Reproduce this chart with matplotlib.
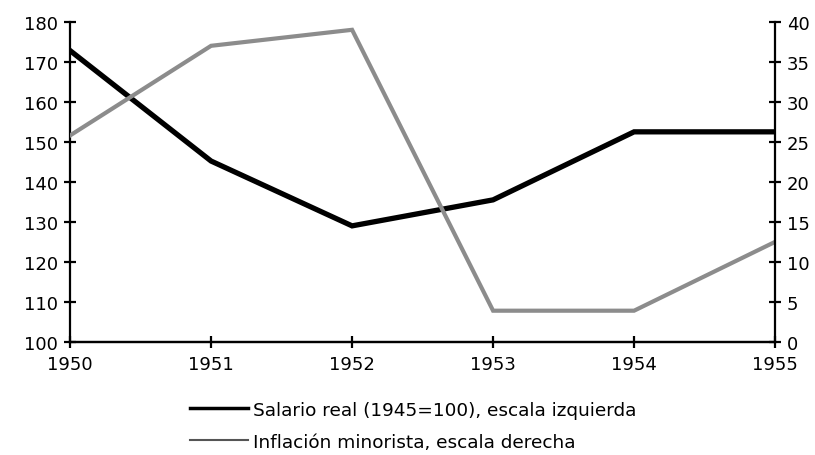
import matplotlib.pyplot as plt
from matplotlib.lines import Line2D

# data
years = [1950, 1951, 1952, 1953, 1954, 1955]
salario = [172.8, 145.2, 129.0, 135.5, 152.5, 152.5]   # left scale
inflacion = [25.8, 37.0, 39.0, 3.9, 3.9, 12.5]        # right scale

left_ticks = list(range(100, 181, 10))
right_ticks = list(range(0, 41, 5))

plt.rcParams['font.family'] = ['DejaVu Sans']

fig = plt.figure(figsize=(8.15, 4.56), dpi=100)
ax = fig.add_axes([0.086, 0.248, 0.865, 0.702])
ax2 = ax.twinx()

ax.plot(years, salario, color='black', lw=3.8, solid_joinstyle='miter', zorder=3)
ax2.plot(years, inflacion, color='#8c8c8c', lw=3.0, solid_joinstyle='miter')

ax.set_xlim(1950, 1955)
ax.set_ylim(100, 180)
ax2.set_ylim(0, 40)
ax.set_xticks(years)
ax.set_yticks(left_ticks)
ax2.set_yticks(right_ticks)

for a in (ax, ax2):
    a.spines['top'].set_visible(False)
    for s in a.spines.values():
        s.set_linewidth(1.6)
    a.tick_params(direction='inout', length=9, width=1.6, labelsize=13, pad=4)
ax2.spines['left'].set_visible(False)
ax.spines['right'].set_visible(False)
ax.tick_params(axis='x', pad=5)

# legend below the plot, thinner handles like the original
handles = [Line2D([], [], color='black', lw=2.5),
           Line2D([], [], color='#555555', lw=1.5)]
labels = ['Salario real (1945=100), escala izquierda',
          'Inflación minorista, escala derecha']
fig.legend(handles, labels, loc='upper left', bbox_to_anchor=(0.2245, 0.135),
           frameon=False, fontsize=13.3, handlelength=3.1, handletextpad=0.3,
           labelspacing=0.75, borderaxespad=0)

fig.savefig('out.png', dpi=100)
